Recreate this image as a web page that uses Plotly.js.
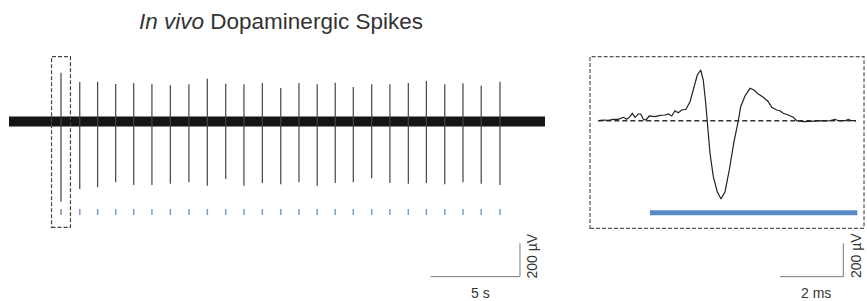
<!DOCTYPE html>
<html>
<head>
<meta charset="utf-8">
<script src="https://cdn.plot.ly/plotly-3.0.1.min.js"></script>
<style>html,body{margin:0;padding:0;background:#fff;}#chart{width:867px;height:301px;}</style>
</head>
<body>
<div id="chart"></div>
<script>
// ---- Left panel: 30 s recording (time in s, amplitude in µV) ----
const recordStart = 0;
const recordEnd = 30;
const spikeTimes = [2.91, 3.96, 4.96, 5.97, 6.98, 8.00, 9.03, 10.07, 11.10, 12.13, 13.15, 14.18, 15.21,
  16.23, 17.25, 18.26, 19.27, 20.30, 21.32, 22.35, 23.36, 24.39, 25.41, 26.43, 27.48];
const spikePeaks = [293, 239, 239, 225, 231, 227, 217, 223, 257, 227, 223, 231, 201,
  231, 223, 233, 207, 223, 223, 231, 243, 223, 229, 215, 239];
const spikeTroughs = [-481, -405, -395, -365, -381, -381, -373, -365, -385, -345, -385, -369, -377,
  -365, -385, -369, -365, -341, -369, -373, -369, -377, -365, -373, -381];
const markerTop = -525;
const markerBottom = -561;

// ---- Right panel: averaged waveform (time in ms, amplitude in µV) ----
const waveTime = [0, 0.158, 0.316, 0.474, 0.632, 0.789, 0.897, 1.001, 1.074, 1.159, 1.263, 1.339, 1.421,
  1.506, 1.610, 1.790, 1.948, 2.106, 2.210, 2.318, 2.422, 2.526, 2.633, 2.769, 2.895, 3.022, 3.126,
  3.233, 3.315, 3.391, 3.442, 3.527, 3.631, 3.757, 3.874, 4.001, 4.136, 4.285, 4.421, 4.496, 4.632,
  4.790, 4.916, 5.052, 5.210, 5.368, 5.475, 5.633, 5.737, 5.841, 5.999, 6.157, 6.265, 6.473, 6.685,
  6.896, 7.105, 7.262, 7.474, 7.578, 7.790, 7.894, 8.001, 8.137];
const waveAmp = [0, 4.2, 2.4, 8.4, 8.4, 20.4, 8.4, 24, 44.4, 20.4, 40.2, 40.2, 8.4,
  4.2, 28.2, 24, 32.4, 34.2, 40.2, 28.2, 60, 48, 64.2, 68.4, 114, 204, 274.2,
  304.2, 244.2, 104.4, 0, -195.6, -336, -426, -469.8, -426, -295.8, -126, 0, 84, 148.2,
  194.4, 184.2, 160.2, 140.4, 114, 80.4, 64.2, 60, 44.4, 34.2, 20.4, 0, -6, -3.6,
  0, 0, -1.8, 8.4, 0, 0, 8.4, 0, 0];
const widthBarStart = 1.63;
const widthBarEnd = 8.18;
const widthBarLevel = -552;

// ---- Scale bars ----
const leftScaleX = [23.6, 28.6];   // 5 s
const leftScaleY = [-931, -731];   // 200 µV
const rightScaleX = [5.737, 7.737]; // 2 ms
const rightScaleY = [-936, -736];  // 200 µV

const titleText = '<i>In vivo</i> Dopaminergic Spikes';
const leftScaleLabels = ['5 s', '200 µV'];
const rightScaleLabels = ['2 ms', '200 µV'];

// build spike segments
const sx = [], sy = [];
spikeTimes.forEach((t, i) => { sx.push(t, t, null); sy.push(spikeTroughs[i], spikePeaks[i], null); });
const mxBlue = [], myBlue = [];
spikeTimes.slice(1).forEach(t => { mxBlue.push(t, t, null); myBlue.push(markerBottom, markerTop, null); });

const font = 'Liberation Sans, Arial, sans-serif';
const traces = [
  {x: [recordStart, recordEnd], y: [0, 0], mode: 'lines', line: {color: '#151515', width: 10}, xaxis: 'x', yaxis: 'y', hoverinfo: 'skip'},
  {x: sx, y: sy, mode: 'lines', line: {color: '#444', width: 1.2}, xaxis: 'x', yaxis: 'y', connectgaps: false, hoverinfo: 'skip'},
  {x: [spikeTimes[0], spikeTimes[0]], y: [markerBottom, markerTop], mode: 'lines', line: {color: '#8a8a8a', width: 1.5}, xaxis: 'x', yaxis: 'y', hoverinfo: 'skip'},
  {x: mxBlue, y: myBlue, mode: 'lines', line: {color: '#7d9bd2', width: 1.5}, xaxis: 'x', yaxis: 'y', connectgaps: false, hoverinfo: 'skip'},
  {x: leftScaleX.concat([leftScaleX[1]]), y: [leftScaleY[0], leftScaleY[0], leftScaleY[1]], mode: 'lines', line: {color: '#7a7a7a', width: 1}, xaxis: 'x', yaxis: 'y', hoverinfo: 'skip'},
  {x: [waveTime[0], waveTime[waveTime.length - 1]], y: [0, 0], mode: 'lines', line: {color: '#333', width: 1.5, dash: '5px,3px'}, xaxis: 'x2', yaxis: 'y2', hoverinfo: 'skip'},
  {x: waveTime, y: waveAmp, mode: 'lines', line: {color: '#222', width: 1.2}, xaxis: 'x2', yaxis: 'y2', hoverinfo: 'skip'},
  {x: [widthBarStart, widthBarEnd], y: [widthBarLevel, widthBarLevel], mode: 'lines', line: {color: '#5b8ac8', width: 5}, xaxis: 'x2', yaxis: 'y2', hoverinfo: 'skip'},
  {x: rightScaleX.concat([rightScaleX[1]]), y: [rightScaleY[0], rightScaleY[0], rightScaleY[1]], mode: 'lines', line: {color: '#7a7a7a', width: 1}, xaxis: 'x2', yaxis: 'y2', hoverinfo: 'skip'}
];

const W = 867, H = 301;
const layout = {
  width: W, height: H,
  margin: {l: 0, r: 0, t: 0, b: 0},
  paper_bgcolor: '#fff', plot_bgcolor: 'rgba(0,0,0,0)',
  showlegend: false,
  title: {text: titleText, x: 281 / W, xanchor: 'center', xref: 'paper', y: 1 - 21 / H, yanchor: 'middle', yref: 'container',
    font: {family: font, size: 22.5, color: '#333'}},
  xaxis: {domain: [0, 560 / W], range: [-0.504, 30.84], visible: false, fixedrange: true},
  yaxis: {domain: [0, 1], range: [-1077, 729], visible: false, fixedrange: true},
  xaxis2: {domain: [585 / W, 1], range: [-0.42, 8.484], visible: false, anchor: 'y2', fixedrange: true},
  yaxis2: {domain: [0, 1], range: [-1081.8, 724.2], visible: false, anchor: 'x2', fixedrange: true},
  shapes: [
    {type: 'rect', xref: 'x', yref: 'y', x0: spikeTimes[0] - 0.53, x1: spikeTimes[0] + 0.53, y0: -635, y1: 389,
      line: {color: '#444', width: 1.2, dash: '4px,2px'}, fillcolor: 'rgba(0,0,0,0)'},
    {type: 'rect', xref: 'x2', yref: 'y2', x0: -0.262, x1: 8.39, y0: -645.6, y1: 384,
      line: {color: '#555', width: 1.2, dash: '4px,2px'}, fillcolor: 'rgba(0,0,0,0)'}
  ],
  annotations: [
    {text: leftScaleLabels[0], xref: 'x', yref: 'y', x: 26.4, y: -1029, showarrow: false, xanchor: 'center', yanchor: 'middle', font: {family: font, size: 14, color: '#333'}},
    {text: leftScaleLabels[1], xref: 'x', yref: 'y', x: 29.25, y: -807, showarrow: false, textangle: -90, xanchor: 'center', yanchor: 'middle', font: {family: font, size: 14, color: '#333'}},
    {text: rightScaleLabels[0], xref: 'x2', yref: 'y2', x: 6.865, y: -1034, showarrow: false, xanchor: 'center', yanchor: 'middle', font: {family: font, size: 14, color: '#333'}},
    {text: rightScaleLabels[1], xref: 'x2', yref: 'y2', x: 8.137, y: -812, showarrow: false, textangle: -90, xanchor: 'center', yanchor: 'middle', font: {family: font, size: 14, color: '#333'}}
  ]
};
Plotly.newPlot('chart', traces, layout, {displayModeBar: false, staticPlot: true});
</script>
</body>
</html>
